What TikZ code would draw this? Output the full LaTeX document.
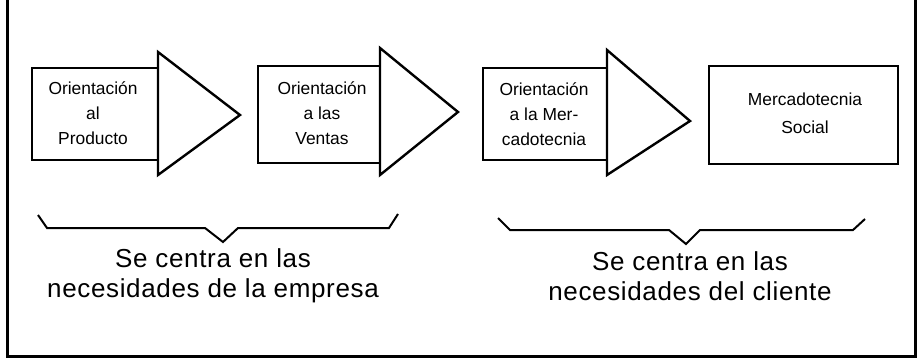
\documentclass[tikz,border=0pt]{standalone}
\usepackage{fontspec}
\setmainfont{Liberation Sans}
\begin{document}
\begin{tikzpicture}[x=1pt,y=-1pt,
  stagebox/.style={draw=black,line width=2pt,fill=white,inner sep=0pt},
  stagetext/.style={align=center,font=\fontsize{17.4}{25}\selectfont,inner sep=0pt},
  arrowtri/.style={draw=black,line width=2.4pt,fill=white,line join=miter},
  bracepath/.style={draw=black,line width=2pt,line join=miter},
  focustext/.style={align=center,font=\fontsize{26}{30}\selectfont\addfontfeature{LetterSpace=2.5},inner sep=0pt}]
\useasboundingbox (0,0) rectangle (919,361);
% frame
\draw[line width=3pt] (7.5,0) -- (7.5,356) -- (915,356) -- (915,0);
% boxes
\node[stagebox,minimum width=126pt,minimum height=92pt] (b1) at (95,114) {};
\node[stagebox,minimum width=122pt,minimum height=97pt] (b2) at (319,114.5) {};
\node[stagebox,minimum width=124pt,minimum height=92pt] (b3) at (545,114) {};
\node[stagebox,minimum width=189pt,minimum height=98pt] (b4) at (803.5,115) {};
% triangles
\coordinate (t1a) at (158,52); \coordinate (t1b) at (158,175); \coordinate (t1c) at (240,115);
\coordinate (t2a) at (380,48); \coordinate (t2b) at (380,175); \coordinate (t2c) at (458,112);
\coordinate (t3a) at (607,50); \coordinate (t3b) at (607,175); \coordinate (t3c) at (690,121);
\draw[arrowtri] (t1a) -- (t1c) -- (t1b) -- cycle;
\draw[arrowtri] (t2a) -- (t2c) -- (t2b) -- cycle;
\draw[arrowtri] (t3a) -- (t3c) -- (t3b) -- cycle;
% box texts
\node[stagetext] (l1) at (93,113) {Orientación\\al\\Producto};
\node[stagetext] (l2) at (322,113) {Orientación\\a las\\Ventas};
\node[stagetext] (l3) at (544,114) {Orientación\\a la Mer-\\cadotecnia};
\node[stagetext,font=\fontsize{17.4}{28}\selectfont] (l4) at (805,113) {Mercadotecnia\\Social};
% braces
\coordinate (ba1) at (38,215); \coordinate (ba2) at (47,228); \coordinate (ba3) at (205,228);
\coordinate (ba4) at (223,242); \coordinate (ba5) at (238,228); \coordinate (ba6) at (389,228);
\coordinate (ba7) at (398,214);
\draw[bracepath] (ba1) -- (ba2) -- (ba3) -- (ba4) -- (ba5) -- (ba6) -- (ba7);
\coordinate (bb1) at (498,218); \coordinate (bb2) at (510,230); \coordinate (bb3) at (669,230);
\coordinate (bb4) at (686,244); \coordinate (bb5) at (700,230); \coordinate (bb6) at (853,230);
\coordinate (bb7) at (865,219);
\draw[bracepath] (bb1) -- (bb2) -- (bb3) -- (bb4) -- (bb5) -- (bb6) -- (bb7);
% focus texts
\node[focustext] (f1) at (213,276) {Se centra en las\\necesidades de la empresa};
\node[focustext] (f2) at (690,276) {Se centra en las\\necesidades del cliente};
\end{tikzpicture}
\end{document}
